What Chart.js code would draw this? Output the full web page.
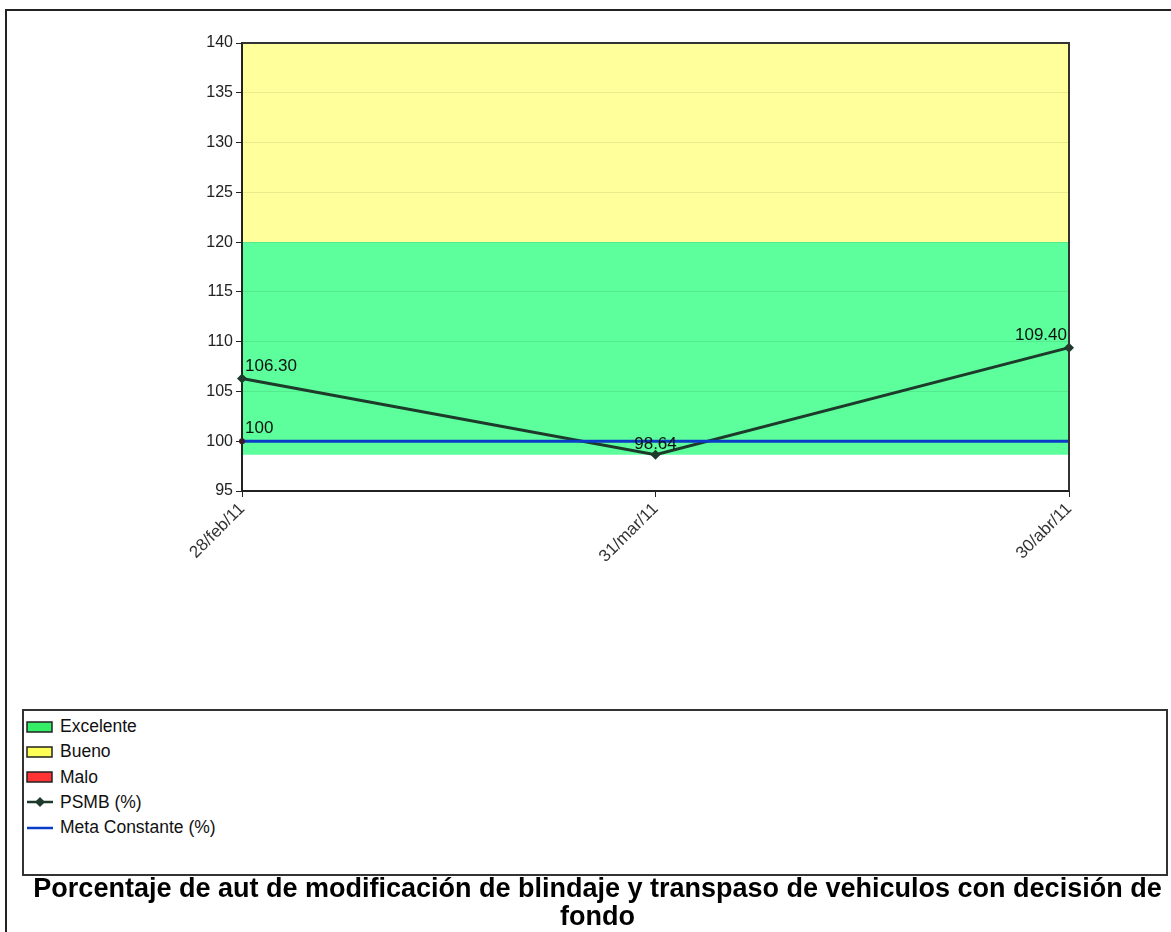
<!DOCTYPE html>
<html>
<head>
<meta charset="utf-8">
<script src="https://cdn.jsdelivr.net/npm/chart.js@4"></script>
<style>
  html, body { margin: 0; padding: 0; background: #fff; overflow: hidden; }
  #wrap { position: relative; width: 1171px; height: 932px; }
  #frame { position: absolute; left: 5px; top: 9px; width: 1300px; height: 1100px; border: 2px solid #222; box-sizing: border-box; }
  canvas { position: absolute; left: 0; top: 0; }
  #legend { position: absolute; left: 22px; top: 709px; width: 1146px; height: 167px; border: 2px solid #333; box-sizing: border-box; background: #fff;
            font-family: "Liberation Sans", Arial, sans-serif; font-size: 17.5px; color: #111; }
  .item { position: absolute; left: 2px; height: 20px; display: flex; align-items: center; }
  .item svg { width: 28px; height: 14px; margin-right: 6px; }
</style>
</head>
<body>
<div id="wrap">
  <div id="frame"></div>
  <div id="legend"></div>
  <canvas id="c" width="1171" height="932"></canvas>
</div>
<script>
const categories = ['28/feb/11', '31/mar/11', '30/abr/11'];
const psmbValues = [106.30, 98.64, 109.40];
const metaValues = [100, 100, 100];
const excelenteTop = [120, 120, 120];
const excelenteBottom = 98.64;
const buenoTop = [140, 140, 140];
const buenoBottom = 120;
const maloValues = [null, null, null];
const yTicks = [95, 100, 105, 110, 115, 120, 125, 130, 135, 140];
const titleLines = ['Porcentaje de aut de modificación de blindaje y transpaso de vehiculos con decisión de', 'fondo'];

const FONT = '"Liberation Sans", Arial, sans-serif';

const labelsPlugin = {
  id: 'valueLabels',
  afterDatasetsDraw(chart) {
    const ctx = chart.ctx;
    ctx.save();
    ctx.font = '17px ' + FONT;
    ctx.fillStyle = '#111';
    ctx.textBaseline = 'bottom';
    const pm = chart.getDatasetMeta(3);
    pm.data.forEach((pt, i) => {
      const txt = psmbValues[i].toFixed(2);
      if (i === 0) { ctx.textAlign = 'left'; ctx.fillText(txt, pt.x + 3, pt.y - 4); }
      else if (i === categories.length - 1) { ctx.textAlign = 'right'; ctx.fillText(txt, pt.x - 2, pt.y - 4); }
      else { ctx.textAlign = 'center'; ctx.fillText(txt, pt.x, pt.y - 2); }
    });
    const mm = chart.getDatasetMeta(4);
    const p0 = mm.data[0];
    ctx.textAlign = 'left';
    ctx.fillText(String(metaValues[0]), p0.x + 3, p0.y - 4);
    const a = chart.chartArea;
    ctx.strokeStyle = '#333';
    ctx.lineWidth = 2;
    ctx.beginPath();
    ctx.moveTo(a.left, a.top); ctx.lineTo(a.right, a.top); ctx.lineTo(a.right, a.bottom);
    ctx.stroke();
    ctx.restore();
  }
};

const chart = new Chart(document.getElementById('c'), {
  type: 'line',
  data: {
    labels: categories,
    datasets: [
      { label: 'Excelente', data: excelenteTop, fill: { value: excelenteBottom }, backgroundColor: 'rgb(92,255,156)', borderWidth: 0, borderColor: 'rgba(0,0,0,0)', pointRadius: 0, order: 10, swatch: '#33ee66' },
      { label: 'Bueno', data: buenoTop, fill: { value: buenoBottom }, backgroundColor: 'rgb(255,255,155)', borderWidth: 0, borderColor: 'rgba(0,0,0,0)', pointRadius: 0, order: 11, swatch: '#ffff55' },
      { label: 'Malo', data: maloValues, fill: false, backgroundColor: '#ff3333', borderWidth: 0, pointRadius: 0, order: 12, swatch: '#ff3333' },
      { label: 'PSMB (%)', data: psmbValues, borderColor: '#1d3a2b', backgroundColor: '#1d3a2b', borderWidth: 3, pointStyle: 'rectRot', pointRadius: 5, pointBorderWidth: 0, fill: false, tension: 0, order: 2 },
      { label: 'Meta Constante (%)', data: metaValues, borderColor: '#0a3cc8', backgroundColor: '#3a1a2a', borderWidth: 3, pointRadius: [3, 0, 0], pointBorderWidth: 0, fill: false, tension: 0, order: 1 }
    ]
  },
  options: {
    responsive: false,
    animation: false,
    events: [],
    layout: { padding: { left: 24, top: 43, right: 0, bottom: 0 } },
    plugins: {
      legend: { display: false },
      tooltip: { enabled: false },
      filler: { drawTime: 'beforeDraw' },
      title: {
        display: true, position: 'bottom', text: titleLines, color: '#000',
        font: { family: FONT, size: 27, weight: 'bold', lineHeight: '28px' },
        padding: { top: 4, bottom: 0 }
      }
    },
    scales: {
      x: {
        offset: false,
        afterFit(s) { s.height = 381; },
        grid: { drawOnChartArea: false, tickColor: '#222', tickLength: 6 },
        border: { color: '#222', width: 2 },
        ticks: { minRotation: 45, maxRotation: 45, color: '#333', padding: 2, font: { family: FONT, size: 17 } }
      },
      y: {
        min: 95, max: 140,
        afterFit(s) { s.width = 218; },
        afterBuildTicks(s) { s.ticks = yTicks.map(v => ({ value: v })); },
        grid: { color: 'rgba(0,0,0,0.08)', tickColor: '#222', tickLength: 6 },
        border: { color: '#222', width: 2 },
        ticks: { color: '#222', padding: 3, font: { family: FONT, size: 16 } }
      },
      yRight: {
        position: 'right',
        min: 95, max: 140,
        afterFit(s) { s.width = 102; },
        grid: { display: false },
        border: { display: false },
        ticks: { display: false }
      }
    }
  },
  plugins: [labelsPlugin]
});

const legend = document.getElementById('legend');
chart.data.datasets.forEach((ds, i) => {
  const div = document.createElement('div');
  div.className = 'item';
  div.style.top = (5.5 + i * 25.3) + 'px';
  let svg;
  if (i < 3) {
    svg = `<svg viewBox="0 0 28 14"><rect x="1" y="2" width="25" height="10" fill="${ds.swatch}" stroke="#222" stroke-width="1.5"/></svg>`;
  } else if (i === 3) {
    svg = `<svg viewBox="0 0 28 14"><line x1="1" y1="7" x2="27" y2="7" stroke="${ds.borderColor}" stroke-width="2.5"/><polygon points="14,2 19,7 14,12 9,7" fill="${ds.borderColor}"/></svg>`;
  } else {
    svg = `<svg viewBox="0 0 28 14"><line x1="1" y1="7" x2="27" y2="7" stroke="${ds.borderColor}" stroke-width="2.5"/></svg>`;
  }
  div.innerHTML = svg + '<span>' + ds.label + '</span>';
  legend.appendChild(div);
});
</script>
</body>
</html>
